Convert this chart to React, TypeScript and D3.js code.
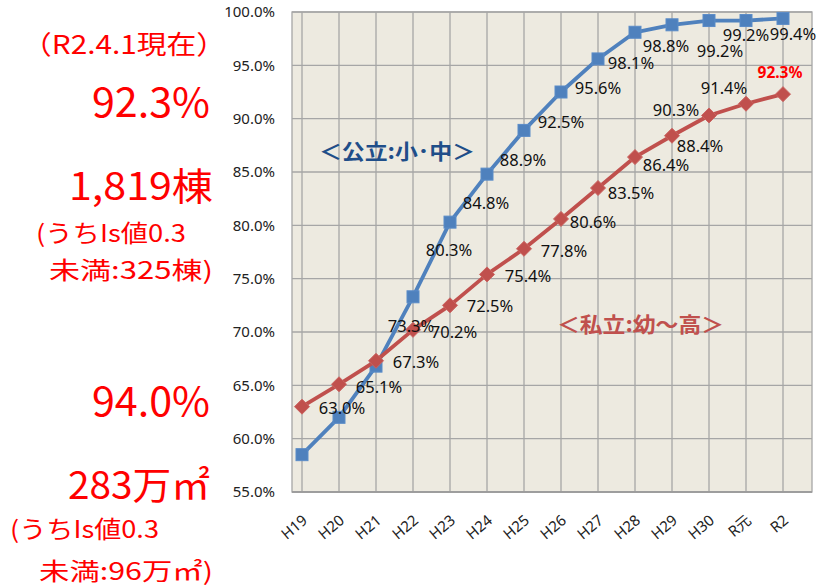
import React from "react";
import * as d3 from "d3";

const categories = ["H19", "H20", "H21", "H22", "H23", "H24", "H25", "H26", "H27", "H28", "H29", "H30", "R元", "R2"];
const publicValues = [58.5, 62.0, 66.8, 73.3, 80.3, 84.8, 88.9, 92.5, 95.6, 98.1, 98.8, 99.2, 99.2, 99.4];
const privateValues = [63.0, 65.1, 67.3, 70.2, 72.5, 75.4, 77.8, 80.6, 83.5, 86.4, 88.4, 90.3, 91.4, 92.3];
const yTicks = [55, 60, 65, 70, 75, 80, 85, 90, 95, 100];
const publicShowLabel = [false, false, false, true, true, true, true, true, true, true, true, true, true, true];

// label offsets (dx, dy) from the marker to the label centre
const publicLabelOffsets: [number, number][] = [
  [0, 28], [0, 28], [0, 28], [-2, 29], [-1, 28], [-1, 29], [-1, 30], [0, 30], [0, 29], [-4, 31], [-6, 21], [11, 31], [0, 15], [10, 16],
];
const privateLabelOffsets: [number, number][] = [
  [40, 2], [40, 3], [40, 1], [41, 2], [40, 1], [41, 2], [40, 2], [32, 3], [33, 5], [31, 8], [28, 10], [-33, -5], [-22, -16], [-3, -22],
];

const leftNotes = [
  { text: "（R2.4.1現在）", x: 226, y: 45, size: 26, anchor: "end", len: 204 },
  { text: "92.3%", x: 210, y: 103, size: 40, anchor: "end", len: 118 },
  { text: "1,819棟", x: 213, y: 187, size: 38, anchor: "end", len: 144 },
  { text: "(うちIs値0.3", x: 36, y: 234, size: 24, anchor: "start", len: 150 },
  { text: "未満:325棟)", x: 213, y: 271, size: 24, anchor: "end", len: 164 },
  { text: "94.0%", x: 210, y: 402, size: 40, anchor: "end", len: 118 },
  { text: "283万㎡", x: 210, y: 486, size: 38, anchor: "end", len: 142 },
  { text: "(うちIs値0.3", x: 10, y: 530, size: 24, anchor: "start", len: 149 },
  { text: "未満:96万㎡)", x: 213, y: 572, size: 24, anchor: "end", len: 174 },
];

const W = 817;
const H = 587;
const plot = { left: 292, right: 812, top: 12, bottom: 492 };

const BLUE = "#4F81BD";
const RED = "#C0504D";
const GRID = "#A6A6A6";
const NUM_FONT = "'Noto Sans', 'Noto Sans CJK JP', sans-serif";
const JP_FONT = "'Noto Sans CJK JP', 'Noto Sans', sans-serif";

export default function App() {
  const x = d3.scalePoint<string>().domain(categories).range([302, 783]);
  const y = d3.scaleLinear().domain([55, 100]).range([plot.bottom, plot.top]);

  const line = d3
    .line<number>()
    .x((_, i) => x(categories[i]) as number)
    .y((d) => y(d));

  const fmt = (v: number) => v.toFixed(1) + "%";
  const sq = 12;
  const dm = 7.5;

  return (
    <div style={{ position: "absolute", left: 0, top: 0 }}>
      <svg width={W} height={H} viewBox={`0 0 ${W} ${H}`} style={{ display: "block", background: "#fff" }}>
        {/* left notes */}
        {leftNotes.map((n, i) => (
          <text
            key={"n" + i}
            x={n.x}
            y={n.y}
            dy="0.35em"
            textAnchor={n.anchor as any}
            fontSize={n.size}
            fill="#FF0000"
            fontFamily={JP_FONT}
            textLength={n.len}
            lengthAdjust="spacingAndGlyphs"
          >
            {n.text}
          </text>
        ))}

        {/* plot background */}
        <rect x={plot.left} y={plot.top} width={plot.right - plot.left} height={plot.bottom - plot.top} fill="#EDEAE0" />

        {/* horizontal grid */}
        {yTicks.map((t) => (
          <line key={"h" + t} x1={plot.left} x2={plot.right} y1={y(t)} y2={y(t)} stroke={GRID} strokeWidth={1.3} />
        ))}
        {/* vertical grid */}
        {categories.map((c) => (
          <line key={"v" + c} x1={x(c)} x2={x(c)} y1={plot.top} y2={plot.bottom} stroke={GRID} strokeWidth={1.3} />
        ))}
        <rect x={plot.left} y={plot.top} width={plot.right - plot.left} height={plot.bottom - plot.top} fill="none" stroke={GRID} strokeWidth={1.3} />
        <line x1={plot.left} x2={plot.right} y1={plot.bottom} y2={plot.bottom} stroke="#999" strokeWidth={1.6} />

        {/* y axis labels */}
        {yTicks.map((t) => (
          <text key={"yl" + t} x={275} y={y(t)} dy="0.35em" textAnchor="end" fontSize={15} fill="#222" fontFamily={NUM_FONT}>
            {fmt(t)}
          </text>
        ))}

        {/* x axis labels */}
        {categories.map((c) => (
          <text
            key={"xl" + c}
            transform={`translate(${(x(c) as number) + 3},${518}) rotate(-40)`}
            textAnchor="end"
            dy="0.35em"
            fontSize={15}
            fill="#222"
            fontFamily={NUM_FONT}
          >
            {c}
          </text>
        ))}

        {/* public series */}
        <path d={line(publicValues) || ""} fill="none" stroke={BLUE} strokeWidth={3.8} strokeLinejoin="round" />
        {publicValues.map((v, i) => (
          <rect key={"bm" + i} x={(x(categories[i]) as number) - sq / 2} y={y(v) - sq / 2} width={sq} height={sq} fill={BLUE} stroke="#5B8CC8" strokeWidth={1} />
        ))}

        {/* private series */}
        <path d={line(privateValues) || ""} fill="none" stroke={RED} strokeWidth={3.8} strokeLinejoin="round" />
        {privateValues.map((v, i) => {
          const cx = x(categories[i]) as number;
          const cy = y(v);
          return (
            <path
              key={"rm" + i}
              d={`M${cx},${cy - dm} L${cx + dm},${cy} L${cx},${cy + dm} L${cx - dm},${cy} Z`}
              fill={RED}
              stroke="#CB6360"
              strokeWidth={1}
            />
          );
        })}

        {/* public labels */}
        {publicValues.map((v, i) =>
          publicShowLabel[i] ? (
            <text
              key={"bl" + i}
              x={(x(categories[i]) as number) + publicLabelOffsets[i][0]}
              y={y(v) + publicLabelOffsets[i][1]}
              dy="0.35em"
              textAnchor="middle"
              fontSize={16.5}
              fill="#111"
              fontFamily={NUM_FONT}
            >
              {fmt(v)}
            </text>
          ) : null
        )}

        {/* private labels */}
        {privateValues.map((v, i) => {
          const last = i === privateValues.length - 1;
          return (
            <text
              key={"rl" + i}
              x={(x(categories[i]) as number) + privateLabelOffsets[i][0]}
              y={y(v) + privateLabelOffsets[i][1]}
              dy="0.35em"
              textAnchor="middle"
              fontSize={last ? 15.5 : 16.5}
              fontWeight={last ? "bold" : "normal"}
              fill={last ? "#FF0000" : "#111"}
              fontFamily={NUM_FONT}
            >
              {fmt(v)}
            </text>
          );
        })}

        {/* series annotations */}
        <text x={319} y={152} dy="0.35em" fontSize={21} fontWeight="bold" fill="#1F4E89" fontFamily={JP_FONT} textLength={156} lengthAdjust="spacingAndGlyphs">
          ＜公立:小･中＞
        </text>
        <text x={557} y={325} dy="0.35em" fontSize={21} fontWeight="bold" fill={RED} fontFamily={JP_FONT} textLength={167} lengthAdjust="spacingAndGlyphs">
          ＜私立:幼～高＞
        </text>
      </svg>
    </div>
  );
}
